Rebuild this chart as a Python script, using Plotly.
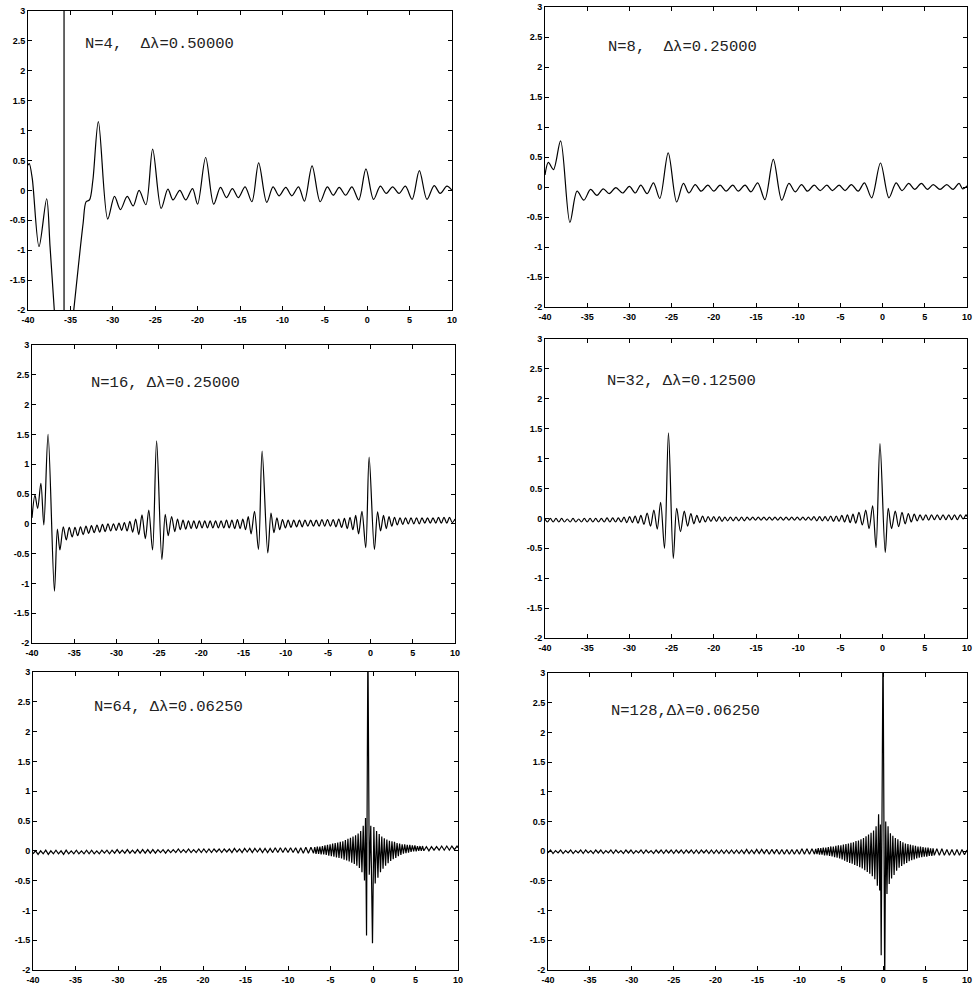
import plotly.graph_objects as go

# ---------------- data ----------------
x_tick_vals = [-40, -35, -30, -25, -20, -15, -10, -5, 0, 5, 10]
x_tick_text = ["-40", "-35", "-30", "-25", "-20", "-15", "-10", "-5", "0", "5", "10"]
y_tick_vals = [-2, -1.5, -1, -0.5, 0, 0.5, 1, 1.5, 2, 2.5, 3]
y_tick_text = ["-2", "-1.5", "-1", "-0.5", "0", "0.5", "1", "1.5", "2", "2.5", "3"]

labels = ["N=4,\u00a0\u00a0\u0394\u03bb=0.50000", "N=8,\u00a0\u00a0\u0394\u03bb=0.25000",
          "N=16,\u00a0\u0394\u03bb=0.25000", "N=32,\u00a0\u0394\u03bb=0.12500",
          "N=64,\u00a0\u0394\u03bb=0.06250", "N=128,\u0394\u03bb=0.06250"]

# N=4 (None marks the breaks where the curve leaves the frame)
p1 = [(-40.0, 0.42), (-39.85, 0.45), (-39.5, 0.2), (-38.7, -0.94), (-37.8, -0.14), (-37.4, -0.94),
      (-36.9, -2.0), (-36.75, -2.3), (None, None), (-35.75, -2.2), (-35.75, 3.2), (None, None),
      (-34.75, -2.2), (-34.07, -1.28), (-33.5, -0.55), (-33.15, -0.19), (-32.75, -0.16), (-32.35, 0.17),
      (-31.7, 1.15), (-30.6, -0.48), (-29.8, -0.10), (-29.1, -0.32), (-28.3, -0.10), (-27.6, -0.26),
      (-26.9, 0.0), (-26.1, -0.24), (-25.3, 0.69), (-24.3, -0.30), (-23.5, 0.02), (-22.9, -0.16),
      (-22.1, 0.0), (-21.4, -0.16), (-20.6, 0.03), (-20.0, -0.23), (-19.05, 0.55), (-18.1, -0.23),
      (-17.3, 0.05), (-16.6, -0.12), (-15.9, 0.03), (-15.2, -0.12), (-14.4, 0.06), (-13.6, -0.19),
      (-12.8, 0.46), (-11.85, -0.20), (-11.1, 0.06), (-10.4, -0.09), (-9.6, 0.05), (-8.9, -0.09),
      (-8.1, 0.06), (-7.4, -0.18), (-6.5, 0.41), (-5.55, -0.19), (-4.7, 0.06), (-4.0, -0.08),
      (-3.3, 0.05), (-2.55, -0.08), (-1.8, 0.06), (-1.0, -0.16), (-0.15, 0.36), (0.75, -0.15),
      (1.55, 0.07), (2.25, -0.05), (3.0, 0.06), (3.75, -0.05), (4.5, 0.07), (5.3, -0.15),
      (6.15, 0.33), (7.05, -0.15), (7.9, 0.08), (8.6, -0.05), (9.4, 0.07), (10.0, 0.0)]

# N=8
p2 = [(-40.0, 0.2), (-39.6, 0.41), (-39.0, 0.29), (-38.15, 0.77), (-37.05, -0.59), (-36.2, -0.07),
      (-35.4, -0.22), (-34.6, -0.04), (-33.85, -0.14), (-33.1, -0.03), (-32.4, -0.11), (-31.6, -0.01),
      (-30.8, -0.10), (-30.0, 0.01), (-29.3, -0.10), (-28.65, 0.03), (-27.9, -0.11), (-27.15, 0.07),
      (-26.4, -0.19), (-25.4, 0.57), (-24.4, -0.25), (-23.6, 0.06), (-22.95, -0.10), (-22.2, 0.04),
      (-21.5, -0.07), (-20.7, 0.03), (-20.0, -0.07), (-19.25, 0.03), (-18.55, -0.07), (-17.75, 0.03),
      (-17.1, -0.07), (-16.3, 0.03), (-15.6, -0.08), (-14.8, 0.07), (-13.95, -0.21), (-12.95, 0.46),
      (-11.95, -0.22), (-11.1, 0.06), (-10.35, -0.08), (-9.6, 0.04), (-8.9, -0.07), (-8.1, 0.03),
      (-7.4, -0.06), (-6.6, 0.03), (-5.95, -0.06), (-5.15, 0.03), (-4.45, -0.06), (-3.7, 0.04),
      (-2.9, -0.07), (-2.15, 0.07), (-1.3, -0.18), (-0.25, 0.40), (0.75, -0.18), (1.6, 0.07),
      (2.3, -0.06), (3.1, 0.06), (3.8, -0.04), (4.6, 0.06), (5.3, -0.04), (6.0, 0.04),
      (6.8, -0.04), (7.6, 0.04), (8.35, -0.04), (9.05, 0.06), (9.5, -0.03), (10.0, 0.02)]

# N=16
p3 = [(-40.0, 0.1), (-39.65, 0.48), (-39.33, 0.26), (-38.95, 0.68), (-38.6, -0.02), (-38.1, 1.5),
      (-37.35, -1.13), (-37.0, -0.09), (-36.7, -0.44), (-36.3, -0.05), (-35.95, -0.27), (-35.6, -0.06),
      (-35.25, -0.22), (-34.92, -0.06), (-34.6, -0.2), (-34.27, -0.05), (-33.95, -0.18), (-33.62, -0.04),
      (-33.3, -0.16), (-32.97, -0.03), (-32.65, -0.15), (-32.32, -0.02), (-32.0, -0.14), (-31.67, -0.01),
      (-31.35, -0.13), (-31.02, 0.0), (-30.7, -0.12), (-30.37, 0.0), (-30.05, -0.11), (-29.72, 0.01),
      (-29.4, -0.11), (-29.08, 0.02), (-28.76, -0.12), (-28.43, 0.04), (-28.1, -0.14), (-27.75, 0.08),
      (-27.38, -0.18), (-27.0, 0.15), (-26.6, -0.25), (-26.2, 0.23), (-25.75, -0.44), (-25.27, 1.39),
      (-24.65, -0.6), (-24.25, 0.16), (-23.9, -0.2), (-23.5, 0.12), (-23.12, -0.13), (-22.8, 0.08),
      (-22.48, -0.1), (-22.15, 0.06), (-21.83, -0.09), (-21.51, 0.05), (-21.19, -0.08), (-20.87, 0.05),
      (-20.55, -0.08), (-20.22, 0.05), (-19.9, -0.07), (-19.58, 0.05), (-19.26, -0.07), (-18.94, 0.05),
      (-18.62, -0.07), (-18.3, 0.05), (-17.97, -0.07), (-17.65, 0.05), (-17.33, -0.07), (-17.01, 0.06),
      (-16.69, -0.07), (-16.37, 0.06), (-16.04, -0.08), (-15.72, 0.07), (-15.4, -0.08), (-15.08, 0.08),
      (-14.76, -0.1), (-14.44, 0.12), (-14.1, -0.17), (-13.7, 0.21), (-13.23, -0.43), (-12.8, 1.22),
      (-12.13, -0.49), (-11.75, 0.18), (-11.4, -0.15), (-11.05, 0.1), (-10.72, -0.1), (-10.39, 0.07),
      (-10.05, -0.07), (-9.72, 0.06), (-9.39, -0.06), (-9.06, 0.06), (-8.72, -0.05), (-8.39, 0.06),
      (-8.06, -0.05), (-7.73, 0.06), (-7.39, -0.04), (-7.06, 0.06), (-6.73, -0.04), (-6.4, 0.06),
      (-6.06, -0.04), (-5.73, 0.07), (-5.4, -0.04), (-5.07, 0.07), (-4.73, -0.04), (-4.4, 0.07),
      (-4.07, -0.05), (-3.74, 0.08), (-3.4, -0.06), (-3.07, 0.09), (-2.74, -0.08), (-2.41, 0.11),
      (-2.07, -0.1), (-1.74, 0.14), (-1.4, -0.17), (-1.0, 0.21), (-0.55, -0.4), (-0.15, 1.12),
      (0.47, -0.43), (0.85, 0.2), (1.2, -0.12), (1.55, 0.14), (1.88, -0.08), (2.2, 0.12),
      (2.53, -0.04), (2.85, 0.11), (3.18, -0.02), (3.5, 0.1), (3.83, -0.01), (4.15, 0.1),
      (4.48, 0.0), (4.8, 0.1), (5.13, 0.0), (5.45, 0.1), (5.78, 0.0), (6.1, 0.1),
      (6.43, 0.01), (6.75, 0.1), (7.08, 0.01), (7.4, 0.1), (7.73, 0.01), (8.05, 0.11),
      (8.38, 0.01), (8.7, 0.11), (9.03, 0.01), (9.35, 0.11), (9.68, 0.02), (10.0, 0.08)]

# N=32
p4 = [(-40.0, -0.01), (-39.7, -0.06), (-39.37, 0.0), (-39.03, -0.06), (-38.7, 0.0), (-38.36, -0.06),
      (-38.03, 0.0), (-37.69, -0.06), (-37.36, -0.01), (-37.02, -0.06), (-36.68, 0.0), (-36.35, -0.06),
      (-36.01, -0.01), (-35.68, -0.06), (-35.34, 0.0), (-35.0, -0.06), (-34.66, 0.0), (-34.33, -0.06),
      (-33.99, 0.0), (-33.66, -0.06), (-33.32, 0.0), (-32.98, -0.06), (-32.65, 0.01), (-32.31, -0.06),
      (-31.98, 0.01), (-31.64, -0.06), (-31.31, 0.01), (-30.97, -0.06), (-30.64, 0.02), (-30.31, -0.07),
      (-29.98, 0.03), (-29.65, -0.07), (-29.32, 0.04), (-28.98, -0.08), (-28.64, 0.05), (-28.28, -0.1),
      (-27.9, 0.09), (-27.5, -0.13), (-27.1, 0.14), (-26.7, -0.18), (-26.3, 0.27), (-25.84, -0.5),
      (-25.37, 1.43), (-24.8, -0.67), (-24.4, 0.17), (-23.95, -0.22), (-23.5, 0.12), (-23.1, -0.13),
      (-22.72, 0.08), (-22.36, -0.09), (-22.01, 0.05), (-21.67, -0.07), (-21.33, 0.04), (-21.0, -0.06),
      (-20.67, 0.03), (-20.34, -0.05), (-20.01, 0.03), (-19.68, -0.05), (-19.35, 0.03), (-19.02, -0.05),
      (-18.69, 0.02), (-18.36, -0.04), (-18.03, 0.02), (-17.7, -0.04), (-17.37, 0.02), (-17.04, -0.04),
      (-16.71, 0.02), (-16.38, -0.04), (-16.05, 0.02), (-15.72, -0.03), (-15.39, 0.02), (-15.06, -0.03),
      (-14.73, 0.02), (-14.4, -0.03), (-14.07, 0.02), (-13.74, -0.03), (-13.41, 0.02), (-13.08, -0.03),
      (-12.75, 0.02), (-12.42, -0.03), (-12.09, 0.02), (-11.76, -0.03), (-11.43, 0.02), (-11.1, -0.03),
      (-10.77, 0.02), (-10.44, -0.03), (-10.11, 0.02), (-9.78, -0.03), (-9.45, 0.02), (-9.12, -0.03),
      (-8.79, 0.02), (-8.46, -0.03), (-8.13, 0.03), (-7.8, -0.04), (-7.47, 0.03), (-7.14, -0.04),
      (-6.81, 0.03), (-6.48, -0.04), (-6.15, 0.04), (-5.82, -0.05), (-5.49, 0.04), (-5.16, -0.05),
      (-4.83, 0.05), (-4.5, -0.06), (-4.17, 0.06), (-3.84, -0.07), (-3.51, 0.07), (-3.18, -0.08),
      (-2.8, 0.1), (-2.4, -0.11), (-2.0, 0.14), (-1.6, -0.17), (-1.18, 0.21), (-0.78, -0.49),
      (-0.31, 1.25), (0.31, -0.57), (0.67, 0.17), (1.06, -0.17), (1.5, 0.12), (1.9, -0.14),
      (2.3, 0.1), (2.68, -0.09), (3.05, 0.08), (3.4, -0.06), (3.75, 0.07), (4.1, -0.04),
      (4.44, 0.06), (4.78, -0.03), (5.12, 0.06), (5.46, -0.03), (5.8, 0.06), (6.14, -0.02),
      (6.48, 0.06), (6.82, -0.02), (7.16, 0.06), (7.5, -0.02), (7.84, 0.06), (8.18, -0.02),
      (8.52, 0.06), (8.86, -0.02), (9.2, 0.06), (9.54, -0.01), (9.88, 0.06), (10.0, 0.03)]

# N=64
p5 = [(-40.0, -0.05), (-39.7, 0.0), (-39.4, -0.06), (-39.1, 0.0), (-38.8, -0.05), (-38.5, 0.01),
      (-38.2, -0.06), (-37.9, 0.0), (-37.6, -0.05), (-37.3, 0.01), (-37.0, -0.05), (-36.7, 0.0),
      (-36.4, -0.06), (-36.1, 0.01), (-35.8, -0.05), (-35.5, 0.0), (-35.2, -0.05), (-34.9, 0.01),
      (-34.6, -0.05), (-34.3, 0.0), (-34.0, -0.05), (-33.7, 0.01), (-33.4, -0.05), (-33.1, 0.01),
      (-32.8, -0.05), (-32.5, 0.0), (-32.2, -0.05), (-31.9, 0.01), (-31.6, -0.04), (-31.3, 0.01),
      (-31.0, -0.05), (-30.7, 0.01), (-30.4, -0.04), (-30.1, 0.02), (-29.8, -0.04), (-29.5, 0.01),
      (-29.2, -0.04), (-28.9, 0.02), (-28.6, -0.04), (-28.3, 0.01), (-28.0, -0.04), (-27.7, 0.02),
      (-27.4, -0.04), (-27.1, 0.02), (-26.8, -0.04), (-26.5, 0.02), (-26.2, -0.04), (-25.9, 0.02),
      (-25.6, -0.04), (-25.3, 0.02), (-25.0, -0.03), (-24.7, 0.02), (-24.4, -0.04), (-24.1, 0.02),
      (-23.8, -0.03), (-23.5, 0.02), (-23.2, -0.03), (-22.9, 0.03), (-22.6, -0.03), (-22.3, 0.02),
      (-22.0, -0.03), (-21.7, 0.03), (-21.4, -0.03), (-21.1, 0.02), (-20.8, -0.03), (-20.5, 0.03),
      (-20.2, -0.03), (-19.9, 0.03), (-19.6, -0.03), (-19.3, 0.03), (-19.0, -0.03), (-18.7, 0.03),
      (-18.4, -0.02), (-18.1, 0.03), (-17.8, -0.03), (-17.5, 0.03), (-17.2, -0.02), (-16.9, 0.03),
      (-16.6, -0.03), (-16.3, 0.04), (-16.0, -0.02), (-15.7, 0.03), (-15.4, -0.03), (-15.1, 0.04),
      (-14.8, -0.02), (-14.5, 0.04), (-14.2, -0.03), (-13.9, 0.04), (-13.6, -0.02), (-13.3, 0.04),
      (-13.0, -0.03), (-12.7, 0.04), (-12.4, -0.03), (-12.1, 0.04), (-11.8, -0.03), (-11.5, 0.05),
      (-11.2, -0.03), (-10.9, 0.05), (-10.6, -0.03), (-10.3, 0.05), (-10.0, -0.03), (-9.7, 0.05),
      (-9.4, -0.03), (-9.1, 0.05), (-8.8, -0.04), (-8.5, 0.05), (-8.2, -0.04), (-7.9, 0.06),
      (-7.6, -0.04), (-7.3, 0.06), (-7.0, -0.04), (-6.85, 0.06), (-6.7, -0.05), (-6.55, 0.07),
      (-6.4, -0.05), (-6.25, 0.07), (-6.1, -0.06), (-5.95, 0.08), (-5.8, -0.06), (-5.65, 0.09),
      (-5.5, -0.07), (-5.35, 0.1), (-5.2, -0.08), (-5.05, 0.11), (-4.9, -0.09), (-4.75, 0.12),
      (-4.6, -0.1), (-4.45, 0.13), (-4.3, -0.11), (-4.15, 0.14), (-4.0, -0.12), (-3.85, 0.15),
      (-3.7, -0.13), (-3.55, 0.16), (-3.4, -0.15), (-3.25, 0.18), (-3.1, -0.16), (-2.95, 0.2),
      (-2.8, -0.18), (-2.65, 0.22), (-2.5, -0.2), (-2.35, 0.24), (-2.2, -0.22), (-2.05, 0.26),
      (-1.9, -0.25), (-1.75, 0.29), (-1.6, -0.29), (-1.45, 0.33), (-1.3, -0.36), (-1.15, 0.42),
      (-1.0, -0.5), (-0.88, 0.55), (-0.76, -1.42), (-0.6, 3.6), (-0.44, -0.4), (-0.26, 0.42),
      (-0.06, -1.55), (0.1, 0.4), (0.26, -0.55), (0.42, 0.33), (0.58, -0.45), (0.73, 0.28),
      (0.88, -0.36), (1.03, 0.24), (1.18, -0.3), (1.33, 0.21), (1.48, -0.25), (1.63, 0.19),
      (1.78, -0.21), (1.93, 0.17), (2.08, -0.17), (2.23, 0.16), (2.38, -0.14), (2.53, 0.15),
      (2.68, -0.12), (2.83, 0.13), (2.98, -0.09), (3.13, 0.12), (3.28, -0.07), (3.43, 0.11),
      (3.58, -0.05), (3.73, 0.11), (3.88, -0.04), (4.03, 0.1), (4.18, -0.03), (4.33, 0.1),
      (4.48, -0.02), (4.63, 0.09), (4.78, -0.01), (4.93, 0.09), (5.08, -0.01), (5.23, 0.08),
      (5.38, 0.0), (5.53, 0.08), (5.68, 0.0), (5.83, 0.08), (5.98, 0.0), (6.28, 0.07),
      (6.58, 0.0), (6.88, 0.07), (7.18, 0.01), (7.48, 0.07), (7.78, 0.01), (8.08, 0.08),
      (8.38, 0.01), (8.68, 0.08), (8.98, 0.01), (9.28, 0.08), (9.58, 0.02), (9.88, 0.08), (10.0, 0.05)]

# N=128
p6 = [(-40.0, -0.03), (-39.7, 0.02), (-39.4, -0.04), (-39.1, 0.01), (-38.8, -0.03), (-38.5, 0.02),
      (-38.2, -0.04), (-37.9, 0.01), (-37.6, -0.03), (-37.3, 0.02), (-37.0, -0.04), (-36.7, 0.01),
      (-36.4, -0.03), (-36.1, 0.02), (-35.8, -0.04), (-35.5, 0.02), (-35.2, -0.03), (-34.9, 0.01),
      (-34.6, -0.04), (-34.3, 0.02), (-34.0, -0.03), (-33.7, 0.02), (-33.4, -0.04), (-33.1, 0.01),
      (-32.8, -0.03), (-32.5, 0.02), (-32.2, -0.04), (-31.9, 0.02), (-31.6, -0.03), (-31.3, 0.01),
      (-31.0, -0.04), (-30.7, 0.02), (-30.4, -0.03), (-30.1, 0.02), (-29.8, -0.04), (-29.5, 0.01),
      (-29.2, -0.03), (-28.9, 0.02), (-28.6, -0.04), (-28.3, 0.02), (-28.0, -0.03), (-27.7, 0.01),
      (-27.4, -0.04), (-27.1, 0.02), (-26.8, -0.03), (-26.5, 0.02), (-26.2, -0.04), (-25.9, 0.02),
      (-25.6, -0.03), (-25.3, 0.02), (-25.0, -0.04), (-24.7, 0.02), (-24.4, -0.03), (-24.1, 0.02),
      (-23.8, -0.04), (-23.5, 0.02), (-23.2, -0.03), (-22.9, 0.02), (-22.6, -0.04), (-22.3, 0.02),
      (-22.0, -0.04), (-21.7, 0.02), (-21.4, -0.03), (-21.1, 0.02), (-20.8, -0.04), (-20.5, 0.02),
      (-20.2, -0.04), (-19.9, 0.02), (-19.6, -0.04), (-19.3, 0.02), (-19.0, -0.04), (-18.7, 0.02),
      (-18.4, -0.04), (-18.1, 0.02), (-17.8, -0.04), (-17.5, 0.02), (-17.2, -0.04), (-16.9, 0.02),
      (-16.6, -0.04), (-16.3, 0.03), (-16.0, -0.04), (-15.7, 0.02), (-15.4, -0.04), (-15.1, 0.03),
      (-14.8, -0.04), (-14.5, 0.03), (-14.2, -0.04), (-13.9, 0.03), (-13.6, -0.05), (-13.3, 0.03),
      (-13.0, -0.04), (-12.7, 0.03), (-12.4, -0.05), (-12.1, 0.03), (-11.8, -0.05), (-11.5, 0.03),
      (-11.2, -0.05), (-10.9, 0.03), (-10.6, -0.05), (-10.3, 0.03), (-10.0, -0.05), (-9.7, 0.04),
      (-9.4, -0.05), (-9.1, 0.04), (-8.8, -0.05), (-8.5, 0.04), (-8.2, -0.05), (-8.05, 0.04),
      (-7.9, -0.05), (-7.75, 0.05), (-7.6, -0.06), (-7.45, 0.05), (-7.3, -0.06), (-7.15, 0.06),
      (-7.0, -0.07), (-6.85, 0.06), (-6.7, -0.07), (-6.55, 0.07), (-6.4, -0.08), (-6.25, 0.08),
      (-6.1, -0.09), (-5.95, 0.08), (-5.8, -0.1), (-5.65, 0.09), (-5.5, -0.11), (-5.35, 0.1),
      (-5.2, -0.12), (-5.05, 0.1), (-4.9, -0.14), (-4.75, 0.11), (-4.6, -0.16), (-4.45, 0.12),
      (-4.3, -0.18), (-4.15, 0.13), (-4.0, -0.2), (-3.85, 0.14), (-3.7, -0.21), (-3.55, 0.15),
      (-3.4, -0.23), (-3.25, 0.17), (-3.1, -0.25), (-2.95, 0.18), (-2.8, -0.27), (-2.65, 0.2),
      (-2.5, -0.29), (-2.35, 0.22), (-2.2, -0.32), (-2.05, 0.25), (-1.9, -0.35), (-1.75, 0.28),
      (-1.6, -0.38), (-1.45, 0.31), (-1.3, -0.42), (-1.15, 0.35), (-1.0, -0.47), (-0.85, 0.42),
      (-0.7, -0.58), (-0.55, 0.62), (-0.42, -0.66), (-0.33, 0.45), (-0.24, -1.75), (-0.02, 3.6),
      (0.18, -2.3), (0.3, 0.5), (0.45, -0.72), (0.58, 0.42), (0.72, -0.55), (0.86, 0.3),
      (1.0, -0.46), (1.15, 0.26), (1.3, -0.4), (1.45, 0.22), (1.6, -0.33), (1.75, 0.2),
      (1.9, -0.28), (2.05, 0.17), (2.2, -0.25), (2.35, 0.15), (2.5, -0.22), (2.65, 0.13),
      (2.8, -0.2), (2.95, 0.12), (3.1, -0.17), (3.25, 0.11), (3.4, -0.15), (3.55, 0.1),
      (3.7, -0.14), (3.85, 0.09), (4.0, -0.12), (4.15, 0.08), (4.3, -0.11), (4.45, 0.08),
      (4.6, -0.1), (4.75, 0.07), (4.9, -0.09), (5.05, 0.06), (5.2, -0.09), (5.35, 0.06),
      (5.5, -0.08), (5.65, 0.05), (5.8, -0.08), (5.95, 0.05), (6.1, -0.07), (6.4, 0.04),
      (6.7, -0.07), (7.0, 0.04), (7.3, -0.07), (7.6, 0.03), (7.9, -0.07), (8.2, 0.03),
      (8.5, -0.07), (8.8, 0.03), (9.1, -0.07), (9.4, 0.03), (9.7, -0.06), (10.0, 0.02)]

series = [p1, p2, p3, p4, p5, p6]
shapes_of_line = ["spline", "spline", "spline", "spline", "linear", "linear"]

# ---------------- layout (pixel boxes of the six frames) ----------------
W, H = 974, 985
boxes = [(28, 452, 11, 310), (545, 967, 7, 307),
         (32, 455, 345, 643), (545, 967, 339, 638),
         (33, 458, 672, 970), (548, 967, 673, 970)]
label_pos = [(-33.55, 2.44), (-32.8, 2.33), (-33.23, 2.36), (-32.9, 2.29), (-33.02, 2.41), (-32.7, 2.36)]

fig = go.Figure()
layout = dict(width=W, height=H, margin=dict(l=0, r=0, t=0, b=0, autoexpand=False),
              paper_bgcolor="white", plot_bgcolor="white", showlegend=False)
annotations = []
tickfont = dict(family="Liberation Sans, Arial, sans-serif", size=9, color="black", weight="bold")

for i, (pts, shp, box, lp, lab) in enumerate(zip(series, shapes_of_line, boxes, label_pos, labels)):
    n = "" if i == 0 else str(i + 1)
    xs = [p[0] for p in pts]
    ys = [p[1] for p in pts]
    line = dict(color="black", width=1.2, shape=shp)
    if shp == "spline":
        line["smoothing"] = 0.9
    fig.add_trace(go.Scatter(x=xs, y=ys, mode="lines", xaxis="x" + n, yaxis="y" + n,
                             line=line, connectgaps=False, hoverinfo="skip"))
    l, r, t, b = box
    common = dict(ticks="inside", ticklen=4, tickcolor="black", showline=True, linecolor="black",
                  linewidth=1, mirror="ticks", showgrid=False, zeroline=False, tickfont=tickfont,
                  automargin=False, fixedrange=True)
    layout["xaxis" + n] = dict(domain=[l / W, r / W], anchor="y" + n, range=[-40, 10],
                               tickvals=x_tick_vals, ticktext=x_tick_text, ticklabelstandoff=1, **common)
    layout["yaxis" + n] = dict(domain=[1 - b / H, 1 - t / H], anchor="x" + n, range=[-2, 3],
                               tickvals=y_tick_vals, ticktext=y_tick_text, **common)
    annotations.append(dict(x=lp[0], y=lp[1], xref="x" + n, yref="y" + n, text=lab, showarrow=False,
                            xanchor="left", yanchor="middle",
                            font=dict(family="Liberation Mono, Courier New, monospace", size=15.5, color="#222")))

layout["annotations"] = annotations
fig.update_layout(**layout)
fig.write_html("out.html", config={"displayModeBar": False},
               post_script="document.body.style.margin='0';document.body.style.overflow='hidden';")
